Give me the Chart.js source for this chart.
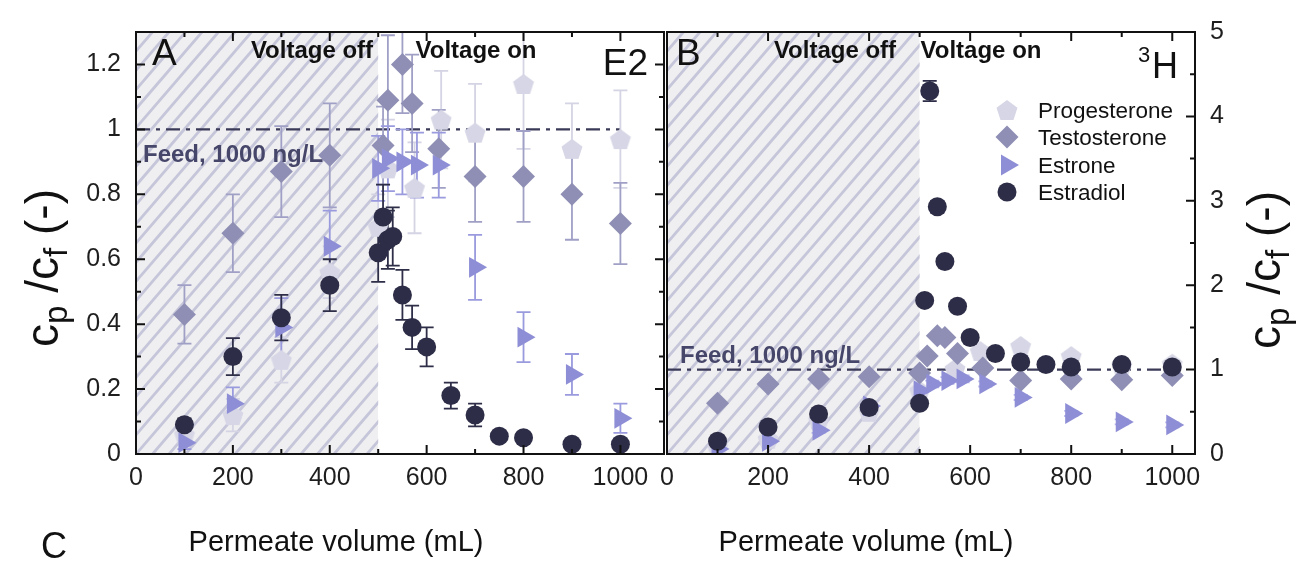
<!doctype html>
<html>
<head>
	<meta charset="utf-8" />
	<title>Chart</title>
	<style>
		html, body { margin: 0; padding: 0; background: #fff; }
		#wrap { position: relative; width: 1297px; height: 561px; }
		canvas { position: absolute; left: 0; top: 0; display: block; }
	</style>
	<script src="https://cdn.jsdelivr.net/npm/chart.js@4/dist/chart.umd.min.js"></script>
	<script>

		// ---- panel A : E2 (left axis) ----
		var e2EstradiolX = [100, 200, 300, 400, 500, 510, 520, 530, 550, 570, 600, 650, 700, 750, 800, 900, 1000];
		var e2EstradiolY = [0.09, 0.30, 0.42, 0.52, 0.62, 0.73, 0.66, 0.67, 0.49, 0.39, 0.33, 0.18, 0.12, 0.055, 0.05, 0.03, 0.03];
		var e2EstradiolErr = [0.02, 0.057, 0.07, 0.08, 0.09, 0.1, 0.09, 0.09, 0.077, 0.067, 0.06, 0.04, 0.035, 0.01, 0.01, 0.008, 0.008];

		var e2EstroneX = [100, 200, 300, 400, 500, 520, 550, 580, 625, 700, 800, 900, 1000];
		var e2EstroneY = [0.035, 0.155, 0.39, 0.64, 0.88, 0.91, 0.90, 0.89, 0.89, 0.575, 0.36, 0.245, 0.11];
		var e2EstroneErr = [0.02, 0.05, 0.09, 0.11, 0.1, 0.1, 0.1, 0.1, 0.1, 0.1, 0.077, 0.063, 0.045];

		var e2TestosteroneX = [100, 200, 300, 400, 510, 520, 550, 570, 625, 700, 800, 900, 1000];
		var e2TestosteroneY = [0.43, 0.68, 0.87, 0.92, 0.95, 1.09, 1.20, 1.08, 0.94, 0.855, 0.855, 0.80, 0.71];
		var e2TestosteroneErr = [0.09, 0.12, 0.14, 0.16, 0.12, 0.2, 0.15, 0.15, 0.12, 0.14, 0.14, 0.14, 0.125];

		var e2ProgesteroneX = [100, 200, 300, 400, 500, 520, 575, 630, 700, 800, 900, 1000];
		var e2ProgesteroneY = [0.06, 0.12, 0.29, 0.56, 0.70, 0.88, 0.82, 1.03, 0.99, 1.14, 0.94, 0.97];
		var e2ProgesteroneErr = [0.02, 0.05, 0.07, 0.08, 0.1, 0.15, 0.14, 0.15, 0.15, 0.2, 0.14, 0.15];

		// ---- panel B : 3H (right axis) ----
		var h3EstradiolX = [100, 200, 300, 400, 500, 510, 520, 535, 550, 575, 600, 650, 700, 750, 800, 900, 1000];
		var h3EstradiolY = [0.15, 0.32, 0.475, 0.55, 0.60, 1.82, 4.3, 2.93, 2.28, 1.75, 1.38, 1.19, 1.09, 1.06, 1.03, 1.06, 1.03];
		var h3EstradiolErr = [0.06, 0.03, 0.05, 0.05, 0.06, 0.05, 0.12, 0.07, 0.05, 0.05, 0.05, 0.05, 0.06, 0.05, 0.06, 0.05, 0.06];

		var h3EstroneX = [100, 200, 300, 400, 500, 525, 555, 585, 630, 700, 800, 900, 1000];
		var h3EstroneY = [0.06, 0.15, 0.28, 0.57, 0.75, 0.83, 0.87, 0.89, 0.83, 0.67, 0.48, 0.38, 0.345];
		var h3EstroneErr = [0.02, 0.03, 0.03, 0.03, 0.04, 0.04, 0.04, 0.04, 0.03, 0.03, 0.03, 0.03, 0.03];

		var h3TestosteroneX = [100, 200, 300, 400, 500, 515, 535, 550, 575, 625, 700, 800, 900, 1000];
		var h3TestosteroneY = [0.60, 0.83, 0.89, 0.915, 0.96, 1.16, 1.40, 1.38, 1.19, 1.02, 0.87, 0.89, 0.88, 0.93];
		var h3TestosteroneErr = [0.03, 0.03, 0.03, 0.03, 0.03, 0.03, 0.03, 0.03, 0.03, 0.03, 0.03, 0.03, 0.03, 0.03];

		var h3ProgesteroneX = [100, 200, 300, 400, 500, 570, 620, 700, 800, 900, 1000];
		var h3ProgesteroneY = [0.08, 0.18, 0.40, 0.50, 0.75, 1.01, 1.22, 1.28, 1.16, 1.05, 1.07];
		var h3ProgesteroneErr = [0.02, 0.03, 0.03, 0.03, 0.04, 0.04, 0.04, 0.04, 0.04, 0.04, 0.04];

		var xTicks = [0, 200, 400, 600, 800, 1000];
		var e2TickLabels = ['0', '0.2', '0.4', '0.6', '0.8', '1', '1.2'];
		var h3TickLabels = ['0', '1', '2', '3', '4', '5'];
		var legendNames = ['Progesterone', 'Testosterone', 'Estrone', 'Estradiol'];

		var voltageOnAt = 500;
		var feedLevel = 1;

		var FONT = '"Liberation Sans", Arial, sans-serif';
		var colEstradiol = '#2d2d47';
		var colEstrone = '#8e8ed6';
		var colTestosterone = '#8f8fb5';
		var colProgesterone = '#d6d6e6';

		function pentagon(r, color) {
			var c = document.createElement('canvas');
			c.width = c.height = Math.ceil(2 * r + 2);
			var g = c.getContext('2d');
			var cx = c.width / 2, cy = c.height / 2 + r * 0.1;
			g.beginPath();
			for (var i = 0; i < 5; i++) {
				var ang = -Math.PI / 2 + i * 2 * Math.PI / 5;
				g.lineTo(cx + r * Math.cos(ang), cy + r * Math.sin(ang));
			}
			g.closePath();
			g.fillStyle = color;
			g.fill();
			return c;
		}

		function pts(xs, ys) {
			return xs.map(function (x, i) { return { x: x, y: ys[i] }; });
		}

		function series(label, xs, ys, errs, color, errColor, style, r, rot) {
			return {
				label: label,
				data: pts(xs, ys),
				yErr: errs,
				errColor: errColor,
				pointStyle: style,
				pointRadius: r,
				pointRotation: rot || 0,
				pointBackgroundColor: color,
				pointBorderColor: color,
				pointBorderWidth: 0,
				showLine: false
			};
		}

		// text with subscripts, rotated -90deg, x = baseline position
		function richText(ctx, parts, x, y, size) {
			ctx.save();
			ctx.translate(x, y);
			ctx.rotate(-Math.PI / 2);
			var total = 0;
			parts.forEach(function (p) {
				ctx.font = (p.sub ? size * 0.72 : size) + 'px ' + FONT;
				p.w = ctx.measureText(p.t).width;
				total += p.w;
			});
			var cx = -total / 2;
			ctx.textBaseline = 'alphabetic';
			ctx.textAlign = 'left';
			ctx.fillStyle = '#111';
			parts.forEach(function (p) {
				ctx.font = (p.sub ? size * 0.72 : size) + 'px ' + FONT;
				ctx.fillText(p.t, cx, p.sub ? size * 0.2 : 0);
				cx += p.w;
			});
			ctx.restore();
		}

		function text(ctx, t, x, y, font, align, color) {
			ctx.font = font;
			ctx.textAlign = align || 'left';
			ctx.textBaseline = 'alphabetic';
			ctx.fillStyle = color || '#111';
			ctx.fillText(t, x, y);
		}

		function decor(opt) {
			return {
				id: 'decor',
				beforeDatasetsDraw: function (chart) {
					var ctx = chart.ctx, a = chart.chartArea;
					var xs = chart.scales.x, ys = chart.scales.y;
					var xOn = xs.getPixelForValue(voltageOnAt);
					var h = a.bottom - a.top;
					var run = h * 0.86;

					// hatched "voltage off" zone
					ctx.save();
					ctx.beginPath();
					ctx.rect(a.left, a.top, xOn - a.left, h);
					ctx.clip();
					ctx.fillStyle = '#efeff1';
					ctx.fillRect(a.left, a.top, xOn - a.left, h);
					ctx.strokeStyle = '#c6c6da';
					ctx.lineWidth = 2.8;
					ctx.beginPath();
					for (var s = a.left - run; s < xOn + 20; s += 16.5) {
						ctx.moveTo(s, a.bottom);
						ctx.lineTo(s + run, a.top);
					}
					ctx.stroke();
					ctx.restore();

					// feed line
					var yf = ys.getPixelForValue(feedLevel);
					ctx.save();
					ctx.strokeStyle = '#3a3a58';
					ctx.lineWidth = 2.4;
					ctx.setLineDash([14, 6, 4, 6]);
					ctx.beginPath();
					ctx.moveTo(a.left, yf);
					ctx.lineTo(xs.getPixelForValue(opt.feedEnd), yf);
					ctx.stroke();
					ctx.restore();

					// error bars
					ctx.save();
					ctx.beginPath();
					ctx.rect(a.left, a.top, a.right - a.left, h);
					ctx.clip();
					ctx.lineWidth = 1.8;
					chart.data.datasets.slice().reverse().forEach(function (ds) {
						ctx.strokeStyle = ds.errColor;
						ctx.beginPath();
						ds.data.forEach(function (p, i) {
							var e = ds.yErr[i];
							var px = xs.getPixelForValue(p.x);
							var y1 = ys.getPixelForValue(p.y + e), y2 = ys.getPixelForValue(p.y - e);
							ctx.moveTo(px, y1); ctx.lineTo(px, y2);
							ctx.moveTo(px - 7, y1); ctx.lineTo(px + 7, y1);
							ctx.moveTo(px - 7, y2); ctx.lineTo(px + 7, y2);
						});
						ctx.stroke();
					});
					ctx.restore();
				},
				afterDatasetsDraw: function (chart) {
					var ctx = chart.ctx, a = chart.chartArea;
					var xs = chart.scales.x, ys = chart.scales.y;

					// frame
					ctx.save();
					ctx.strokeStyle = '#111';
					ctx.lineWidth = 2;
					ctx.strokeRect(a.left, a.top, a.right - a.left, a.bottom - a.top);

					// inward ticks
					ctx.beginPath();
					for (var v = 0; v <= xs.max; v += 100) {
						var px = xs.getPixelForValue(v);
						var len = (v % 200 === 0) ? 9 : 5;
						ctx.moveTo(px, a.bottom); ctx.lineTo(px, a.bottom - len);
						ctx.moveTo(px, a.top); ctx.lineTo(px, a.top + len);
					}
					for (var k = 0; k * opt.yMinor <= ys.max + 1e-9; k++) {
						var py = ys.getPixelForValue(k * opt.yMinor);
						var l2 = (k % 2 === 0) ? 9 : 5;
						if (opt.leftTicks) { ctx.moveTo(a.left, py); ctx.lineTo(a.left + l2, py); }
						ctx.moveTo(a.right, py); ctx.lineTo(a.right - l2, py);
					}
					ctx.stroke();
					ctx.restore();

					opt.labels(ctx, chart);
				},
				afterDraw: function (chart) {
					opt.titles(chart.ctx, chart);
				}
			};
		}

		function yLabel(ctx, x, y) {
			richText(ctx, [
				{ t: 'c' }, { t: 'p', sub: true }, { t: ' /c' }, { t: 'f', sub: true }, { t: ' (-)' }
			], x, y, 46);
		}

		function makeChart(id, datasets, xMax, yMax, yStep, yLabels, yPos, padding, yWidth, opt) {
			var ctx = document.getElementById(id).getContext('2d');
			return new Chart(ctx, {
				type: 'scatter',
				data: { datasets: datasets },
				options: {
					responsive: false,
					animation: false,
					devicePixelRatio: 1,
					layout: { padding: padding },
					plugins: { legend: { display: false }, tooltip: { enabled: false } },
					scales: {
						x: {
							type: 'linear', position: 'bottom', min: 0, max: xMax,
							grid: { display: false, drawTicks: false },
							border: { display: false },
							afterFit: function (s) { s.height = 107; },
							ticks: {
								stepSize: 200, includeBounds: false, autoSkip: false, maxRotation: 0,
								padding: 9, color: '#1e1e1e',
								font: { family: FONT, size: 25 },
								callback: function (v) { return xTicks.indexOf(v) >= 0 ? String(v) : ''; }
							}
						},
						y: {
							type: 'linear', position: yPos, min: 0, max: yMax,
							grid: { display: false, drawTicks: false },
							border: { display: false },
							afterFit: function (s) { s.width = yWidth; },
							ticks: {
								stepSize: yStep, includeBounds: false, autoSkip: false,
								padding: 15, color: '#1e1e1e',
								font: { family: FONT, size: 25 },
								callback: function (v, i) { return yLabels[i] !== undefined ? yLabels[i] : ''; }
							}
						}
					}
				},
				plugins: [decor(opt)]
			});
		}

		function init() {
			var pentE2 = pentagon(11, colProgesterone);
			var pentH3 = pentagon(11, colProgesterone);

			var dsA = [
				series('Estradiol', e2EstradiolX, e2EstradiolY, e2EstradiolErr, colEstradiol, '#2e2e48', 'circle', 9.5),
				series('Estrone', e2EstroneX, e2EstroneY, e2EstroneErr, colEstrone, '#9a9ade', 'triangle', 12, 90),
				series('Testosterone', e2TestosteroneX, e2TestosteroneY, e2TestosteroneErr, colTestosterone, '#a0a0c6', 'rectRot', 11.5),
				series('Progesterone', e2ProgesteroneX, e2ProgesteroneY, e2ProgesteroneErr, colProgesterone, '#d4d4e4', pentE2, 11)
			];

			var dsB = [
				series('Estradiol', h3EstradiolX, h3EstradiolY, h3EstradiolErr, colEstradiol, '#2e2e48', 'circle', 9.5),
				series('Estrone', h3EstroneX, h3EstroneY, h3EstroneErr, colEstrone, '#b4b4ea', 'triangle', 12, 90),
				series('Testosterone', h3TestosteroneX, h3TestosteroneY, h3TestosteroneErr, colTestosterone, '#a8a8c8', 'rectRot', 11.5),
				series('Progesterone', h3ProgesteroneX, h3ProgesteroneY, h3ProgesteroneErr, colProgesterone, '#dcdcea', pentH3, 11)
			];

			makeChart('chartA', dsA, 1090, 1.3, 0.2, e2TickLabels, 'left',
				{ left: 0, top: 32, right: 1297 - 664, bottom: 0 }, 136, {
				feedEnd: 1000, yMinor: 0.1, leftTicks: true,
				labels: function (ctx) {
					text(ctx, 'A', 152, 65, '37px ' + FONT);
					text(ctx, 'Voltage off', 312, 58, 'bold 24px ' + FONT, 'center');
					text(ctx, 'Voltage on', 476, 58, 'bold 24px ' + FONT, 'center');
					text(ctx, 'E2', 648, 75, '37px ' + FONT, 'right');
					text(ctx, 'Feed, 1000 ng/L', 143, 162, 'bold 24px ' + FONT, 'left', '#46466a');
				},
				titles: function (ctx) {
					yLabel(ctx, 58, 268);
					text(ctx, 'Permeate volume (mL)', 336, 551, '29px ' + FONT, 'center');
					text(ctx, 'C', 54, 558, '36px ' + FONT, 'center');
				}
			});

			makeChart('chartB', dsB, 1045, 5, 1, h3TickLabels, 'right',
				{ left: 667, top: 32, right: 0, bottom: 0 }, 102, {
				feedEnd: 1010, yMinor: 0.5, leftTicks: false,
				labels: function (ctx) {
					text(ctx, 'B', 676, 65, '37px ' + FONT);
					text(ctx, 'Voltage off', 835, 58, 'bold 24px ' + FONT, 'center');
					text(ctx, 'Voltage on', 981, 58, 'bold 24px ' + FONT, 'center');
					text(ctx, '3', 1138, 62, '22px ' + FONT);
					text(ctx, 'H', 1152, 78, '36px ' + FONT);
					text(ctx, 'Feed, 1000 ng/L', 680, 363, 'bold 24px ' + FONT, 'left', '#46466a');

					// legend
					var rows = [110, 137, 165, 192];
					var mx = 1007;
					ctx.save();
					ctx.drawImage(pentH3, mx - pentH3.width / 2, rows[0] - pentH3.height / 2);
					ctx.fillStyle = colTestosterone;
					ctx.beginPath();
					ctx.moveTo(mx, rows[1] - 11.5); ctx.lineTo(mx + 11.5, rows[1]);
					ctx.lineTo(mx, rows[1] + 11.5); ctx.lineTo(mx - 11.5, rows[1]);
					ctx.closePath(); ctx.fill();
					ctx.fillStyle = colEstrone;
					ctx.beginPath();
					ctx.moveTo(mx + 12, rows[2]);
					ctx.lineTo(mx - 6, rows[2] - 10.4);
					ctx.lineTo(mx - 6, rows[2] + 10.4);
					ctx.closePath(); ctx.fill();
					ctx.fillStyle = colEstradiol;
					ctx.beginPath();
					ctx.arc(mx, rows[3], 9.5, 0, Math.PI * 2);
					ctx.fill();
					ctx.restore();
					legendNames.forEach(function (n, i) {
						text(ctx, n, 1038, rows[i] + 8, '22.5px ' + FONT);
					});
				},
				titles: function (ctx) {
					yLabel(ctx, 1280, 270);
					text(ctx, 'Permeate volume (mL)', 866, 551, '29px ' + FONT, 'center');
				}
			});
		}

	</script>
</head>
<body onload="init();">
	<div id="wrap">
		<canvas id="chartA" width="1297" height="561"></canvas>
		<canvas id="chartB" width="1297" height="561"></canvas>
	</div>
</body>
</html>
